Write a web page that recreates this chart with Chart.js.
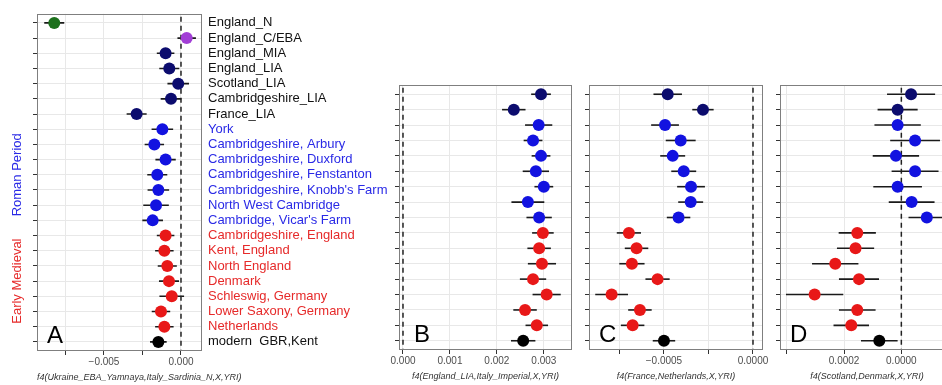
<!DOCTYPE html>
<html>
<head>
<meta charset="utf-8">
<script src="https://cdn.jsdelivr.net/npm/chart.js@4.4.0/dist/chart.umd.min.js"></script>
<style>
  html, body { margin: 0; padding: 0; background: #fff; overflow: hidden; width: 942px; height: 385px; }
  .panel { position: absolute; top: 0; height: 385px; }
</style>
</head>
<body>
<div class="panel" style="left:0;width:400px"><canvas id="cA"></canvas></div>
<div class="panel" style="left:372px;width:210px"><canvas id="cB"></canvas></div>
<div class="panel" style="left:565px;width:210px"><canvas id="cC"></canvas></div>
<div class="panel" style="left:756px;width:204px"><canvas id="cD"></canvas></div>
<script>
// rows, top to bottom (panel A shows all of them, B-D start at Cambridgeshire_LIA)
const rowLabels = ["England_N", "England_C/EBA", "England_MIA", "England_LIA", "Scotland_LIA",
  "Cambridgeshire_LIA", "France_LIA", "York", "Cambridgeshire, Arbury", "Cambridgeshire, Duxford",
  "Cambridgeshire, Fenstanton", "Cambridgeshire, Knobb's Farm", "North West Cambridge",
  "Cambridge, Vicar's Farm", "Cambridgeshire, England", "Kent, England", "North England",
  "Denmark", "Schleswig, Germany", "Lower Saxony, Germany", "Netherlands", "modern  GBR,Kent"];
const rowGroups = ["Neolithic", "Bronze Age", "Iron Age", "Iron Age", "Iron Age", "Iron Age", "Iron Age",
  "Roman Period", "Roman Period", "Roman Period", "Roman Period", "Roman Period", "Roman Period", "Roman Period",
  "Early Medieval", "Early Medieval", "Early Medieval", "Early Medieval", "Early Medieval", "Early Medieval", "Early Medieval",
  "Modern"];
const sideGroups = ["Roman Period", "Early Medieval"];
const firstRowBCD = 5;

// f4 estimates and error half-widths
const f4A = [-0.00823, 0.00037, -0.0010, -0.00076, -0.00018, -0.00065, -0.00288, -0.00121, -0.00173, -0.0010,
  -0.00154, -0.00147, -0.00162, -0.00184, -0.0010, -0.00108, -0.00089, -0.00078, -0.0006, -0.0013, -0.00108, -0.00147];
const errA = [0.00065, 0.0006, 0.00057, 0.00065, 0.0007, 0.00067, 0.00065, 0.0007, 0.00063, 0.00066, 0.00065,
  0.0007, 0.00083, 0.00067, 0.00057, 0.0006, 0.00062, 0.00065, 0.0008, 0.0006, 0.0006, 0.00054];

const f4B = [0.00294, 0.00236, 0.00289, 0.00277, 0.00294, 0.00283, 0.0030, 0.00266, 0.0029,
  0.00298, 0.0029, 0.00296, 0.00277, 0.00306, 0.0026, 0.00285, 0.00256];
const errB = [0.00021, 0.00025, 0.00029, 0.0002, 0.0002, 0.00028, 0.0002, 0.00035, 0.00027,
  0.00023, 0.00025, 0.0003, 0.00028, 0.0003, 0.00025, 0.00024, 0.00026];

const f4C = [-0.000479, -0.000281, -0.000494, -0.000406, -0.000451, -0.000389, -0.000348, -0.00035, -0.000418,
  -0.000697, -0.000654, -0.00068, -0.000536, -0.000794, -0.000635, -0.000676, -0.0005];
const errC = [0.00008, 0.00006, 0.000078, 0.000084, 0.00007, 0.00007, 0.000078, 0.00007, 0.000066,
  0.000068, 0.000066, 0.000071, 0.000068, 0.000092, 0.000066, 0.000066, 0.000063];

const f4D = [-0.000034, 0.000013, 0.000013, -0.000048, 0.000019, -0.000048, 0.000013, -0.000036, -0.000089,
  0.000154, 0.00016, 0.000231, 0.000148, 0.000303, 0.000154, 0.000175, 0.000077];
const errD = [0.000084, 0.00007, 0.000081, 0.000087, 0.000081, 0.000082, 0.000085, 0.00008, 0.000064,
  0.000065, 0.000065, 0.000081, 0.00007, 0.0001, 0.000064, 0.000062, 0.000064];

// x ticks
const ticksA = [-0.0075, -0.005, -0.0025, 0];
const tickLabelsA = ["", "\u22120.005", "", "0.000"];
const ticksB = [0, 0.001, 0.002, 0.003];
const tickLabelsB = ["0.000", "0.001", "0.002", "0.003"];
const ticksC = [-0.00075, -0.0005, -0.00025, 0];
const tickLabelsC = ["", "\u22120.0005", "", "0.0000"];
const ticksD = [0.0004, 0.0002, 0];
const tickLabelsD = ["", "0.0002", "0.0000"];

const titleA = "f4(Ukraine_EBA_Yamnaya,Italy_Sardinia_N,X,YRI)";
const titleB = "f4(England_LIA,Italy_Imperial,X,YRI)";
const titleC = "f4(France,Netherlands,X,YRI)";
const titleD = "f4(Scotland,Denmark,X,YRI)";

// colours
const pointColors = {
  "Neolithic": "#1c701c", "Bronze Age": "#a23ed6", "Iron Age": "#0c0c6e",
  "Roman Period": "#1212e0", "Early Medieval": "#e81818", "Modern": "#000000"
};
const labelColors = {
  "Neolithic": "#111", "Bronze Age": "#111", "Iron Age": "#111",
  "Roman Period": "#2a2ae6", "Early Medieval": "#e62a2a", "Modern": "#111"
};

Chart.defaults.font.family = '"Liberation Sans", Arial, Helvetica, sans-serif';
const H = 385;
const titleFont = 'italic 9px "Liberation Sans", Arial, sans-serif';

// error bars, panel frame, panel letter, side group labels
const panelDecor = {
  id: 'panelDecor',
  beforeDatasetsDraw(chart, args, o) {
    const { ctx, chartArea: a, scales: { x, y } } = chart;
    ctx.save();
    ctx.beginPath();
    ctx.rect(a.left, a.top, a.width, a.height);
    ctx.clip();
    ctx.strokeStyle = '#1a1a1a';
    ctx.lineWidth = 1.6;
    o.values.forEach((v, i) => {
      const py = y.getPixelForValue(i);
      ctx.beginPath();
      ctx.moveTo(x.getPixelForValue(v - o.err[i]), py);
      ctx.lineTo(x.getPixelForValue(v + o.err[i]), py);
      ctx.stroke();
    });
    ctx.restore();
  },
  afterDraw(chart, args, o) {
    const { ctx, chartArea: a, scales: { y } } = chart;
    ctx.save();
    ctx.strokeStyle = '#7f7f7f';
    ctx.lineWidth = 1;
    ctx.strokeRect(Math.round(a.left) + 0.5, Math.round(a.top) + 0.5, Math.round(a.width) - 1, Math.round(a.height) - 1);
    ctx.fillStyle = '#000';
    ctx.font = '24px "Liberation Sans", Arial, sans-serif';
    ctx.textBaseline = 'alphabetic';
    ctx.textAlign = 'left';
    ctx.fillText(o.letter, a.left + o.letterDx, a.bottom - 8);
    if (o.wideTitle) {
      // this title is wider than its panel, so it is drawn here without squeezing
      ctx.font = titleFont;
      ctx.fillStyle = '#333';
      ctx.textBaseline = 'middle';
      ctx.fillText(o.wideTitle, a.left, H - 8);
    }
    if (o.sideLabels) {
      ctx.font = '13px "Liberation Sans", Arial, sans-serif';
      ctx.textAlign = 'center';
      ctx.textBaseline = 'middle';
      sideGroups.forEach(g => {
        const idx = rowGroups.map((r, i) => r === g ? i : -1).filter(i => i >= 0);
        const cy = (y.getPixelForValue(idx[0]) + y.getPixelForValue(idx[idx.length - 1])) / 2;
        ctx.save();
        ctx.translate(17, cy);
        ctx.rotate(-Math.PI / 2);
        ctx.fillStyle = labelColors[g];
        ctx.fillText(g, 0, 0);
        ctx.restore();
      });
    }
    ctx.restore();
  }
};

function makePanel(id, p) {
  const rows = p.values.map((v, i) => i + p.firstRow);
  const n = rows.length;
  const colors = rows.map(r => pointColors[rowGroups[r]]);
  const rowTicks = s => { s.ticks = rows.map((r, i) => ({ value: i })); };

  const scales = {
    x: {
      type: 'linear', min: p.min, max: p.max, reverse: !!p.reverse,
      afterBuildTicks: s => { s.ticks = p.ticks.map(v => ({ value: v })); },
      afterFit: s => { s.height = H - p.bottom; },
      ticks: { callback: (v, i) => p.tickLabels[i], color: '#4d4d4d', font: { size: 10 }, padding: 1, autoSkip: false, maxRotation: 0 },
      grid: { color: '#e8e8e8', tickColor: '#333', tickLength: 4 },
      border: { display: false },
      title: { display: !p.wideTitle, text: p.title, color: '#333',
               font: { size: 9, style: 'italic' }, padding: { top: 0, bottom: 3 } }
    },
    y: {
      type: 'linear', min: -0.6, max: n - 0.4, reverse: true,
      afterBuildTicks: rowTicks,
      afterFit: s => { s.width = p.leftW; },
      ticks: { callback: () => '', autoSkip: false, padding: 0 },
      grid: { color: '#e8e8e8', tickColor: '#333', tickLength: 4 },
      border: { display: false }
    }
  };
  if (p.rowNames) {
    scales.y2 = {
      type: 'linear', position: 'right', min: -0.6, max: n - 0.4, reverse: true,
      afterBuildTicks: rowTicks,
      afterFit: s => { s.width = p.rightW; },
      ticks: {
        callback: (v, i) => rowLabels[rows[i]],
        color: c => labelColors[rowGroups[rows[c.index]]],
        font: { size: 13 }, padding: 6, autoSkip: false
      },
      grid: { display: false, drawTicks: false },
      border: { display: false }
    };
  }

  new Chart(document.getElementById(id), {
    type: 'scatter',
    data: {
      datasets: [
        {
          data: p.values.map((v, i) => ({ x: v, y: i })),
          pointRadius: 6, pointBackgroundColor: colors, pointBorderColor: colors,
          pointBorderWidth: 0, order: 1
        },
        {
          data: [{ x: 0, y: -1 }, { x: 0, y: n }],
          showLine: true, borderColor: '#222', borderWidth: 1.5, borderDash: [5, 4],
          pointRadius: 0, order: 2
        }
      ]
    },
    options: {
      responsive: true, maintainAspectRatio: false, animation: false,
      layout: { padding: { top: p.top, right: p.padRight || 0, left: 0, bottom: 0 } },
      plugins: {
        legend: { display: false }, tooltip: { enabled: false },
        panelDecor: { values: p.values, err: p.err, letter: p.letter, letterDx: p.letterDx,
                      sideLabels: !!p.rowNames, wideTitle: p.wideTitle ? p.title : '' }
      },
      scales
    },
    plugins: [panelDecor]
  });
}

makePanel('cA', { values: f4A, err: errA, firstRow: 0, min: -0.00935, max: 0.001364,
  ticks: ticksA, tickLabels: tickLabelsA, title: titleA, wideTitle: true,
  top: 12, bottom: 351, leftW: 37, rightW: 198, rowNames: true, letter: 'A', letterDx: 10 });
makePanel('cB', { values: f4B, err: errB, firstRow: firstRowBCD, min: -0.000085, max: 0.0036,
  ticks: ticksB, tickLabels: tickLabelsB, title: titleB,
  top: 85, bottom: 350, leftW: 27, padRight: 10, letter: 'B', letterDx: 15 });
makePanel('cC', { values: f4C, err: errC, firstRow: firstRowBCD, min: -0.000921, max: 0.0000562,
  ticks: ticksC, tickLabels: tickLabelsC, title: titleC,
  top: 85, bottom: 350, leftW: 24, padRight: 12, letter: 'C', letterDx: 10 });
makePanel('cD', { values: f4D, err: errD, firstRow: firstRowBCD, min: -0.000184, max: 0.000424, reverse: true,
  ticks: ticksD, tickLabels: tickLabelsD, title: titleD,
  top: 85, bottom: 350, leftW: 24, padRight: 5, letter: 'D', letterDx: 10 });
</script>
</body>
</html>
